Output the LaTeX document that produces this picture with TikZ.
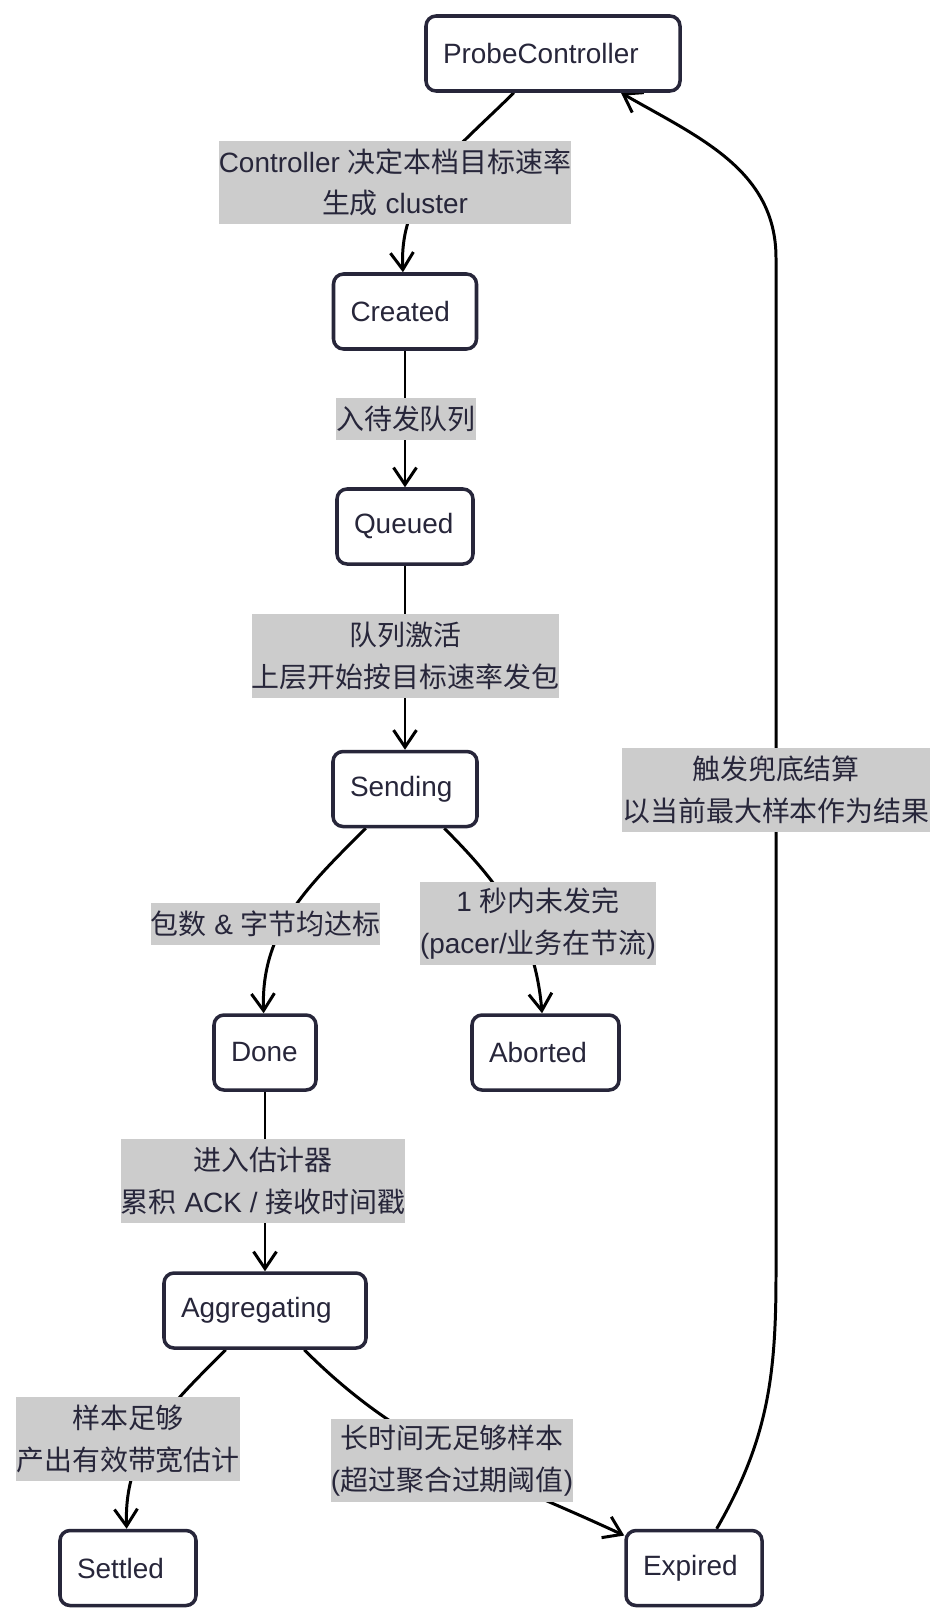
\documentclass[tikz,border=0pt]{standalone}
\usepackage{fontspec}
\setmainfont{Liberation Sans}
\newfontfamily\cjk{Noto Sans CJK SC}
\usepackage{tikz}
\usetikzlibrary{arrows.meta,backgrounds}
\definecolor{inkdark}{HTML}{27263A}
\definecolor{notegray}{HTML}{CCCCCC}

\begin{document}
\begin{tikzpicture}[>={Straight Barb[length=3.4mm,width=4.6mm]},
    every node/.style={font=\fontsize{15.9}{23.6}\selectfont, text=inkdark},
    state/.style={draw=inkdark, fill=white, line width=2pt, rounded corners=0.2cm,
      minimum height=1.5cm, inner xsep=0.34cm, align=left},
    lbl/.style={fill=notegray, inner xsep=0pt, inner ysep=0pt, align=center, minimum height=#1},
    lbl/.default=0.84cm,
    edge/.style={->, line width=1.7pt, black}]
        \useasboundingbox (0,0) rectangle (18.92,-32.44);
        % states
        \node[state,text width=4.4cm] (pc) at (11.06,-1.07) {ProbeController};
        \node[state,text width=2.18cm] (created) at (8.1,-6.23) {Created};
        \node[state,text width=2.04cm] (queued) at (8.1,-10.53) {Queued};
        \node[state,text width=2.2cm] (sending) at (8.1,-15.78) {Sending};
        \node[state,text width=1.36cm] (done) at (5.3,-21.05) {Done};
        \node[state,text width=2.26cm] (aborted) at (10.91,-21.05) {Aborted};
        \node[state,text width=3.36cm] (agg) at (5.3,-26.21) {Aggregating};
        \node[state,text width=2.04cm] (settled) at (2.56,-31.36) {Settled};
        \node[state,text width=2.04cm] (expired) at (13.88,-31.36) {Expired};
        % transition labels
        \node[lbl=1.66cm] (l1) at (7.9,-3.65) {Controller {\cjk 决定本档目标速率}\\{\cjk 生成} cluster};
        \node[lbl] (l2) at (8.12,-8.38) {{\cjk 入待发队列}};
        \node[lbl=1.68cm] (l3) at (8.11,-13.12) {{\cjk 队列激活}\\{\cjk 上层开始按目标速率发包}};
        \node[lbl] (l4) at (5.31,-18.47) {{\cjk 包数} \& {\cjk 字节均达标}};
        \node[lbl=1.66cm] (l5) at (10.76,-18.47) {1 {\cjk 秒内未发完}\\(pacer/{\cjk 业务在节流})};
        \node[lbl=1.68cm] (l6) at (5.26,-23.62) {{\cjk 进入估计器}\\{\cjk 累积} ACK / {\cjk 接收时间戳}};
        \node[lbl=1.68cm] (l7) at (2.56,-28.78) {{\cjk 样本足够}\\{\cjk 产出有效带宽估计}};
        \node[lbl=1.66cm] (l8) at (9.04,-29.21) {{\cjk 长时间无足够样本}\\({\cjk 超过聚合过期阈值})};
        \node[lbl=1.68cm] (l9) at (15.52,-15.8) {{\cjk 触发兜底结算}\\{\cjk 以当前最大样本作为结果}};
        \coordinate (low) at (15.52,-25.5);
        \coordinate (high) at (15.52,-5.16);
        % transitions
        \begin{scope}[on background layer]
        \draw[edge] (pc) to[out=-135,in=93] (created);
        \draw[edge] (created) -- (queued);
        \draw[edge] (queued) -- (sending);
        \draw[edge] (sending) to[out=-135,in=92] (done);
        \draw[edge] (sending) to[out=-45,in=95] (aborted);
        \draw[edge] (done) -- (agg);
        \draw[edge] (agg) to[out=-135,in=92] (settled);
        \draw[edge] (agg) to[out=-45,in=155] (expired);
        \draw[edge] (expired) to[out=60,in=-90] (low) -- (high) to[out=90,in=-30] (pc);
        \end{scope}
      \end{tikzpicture}
\end{document}
